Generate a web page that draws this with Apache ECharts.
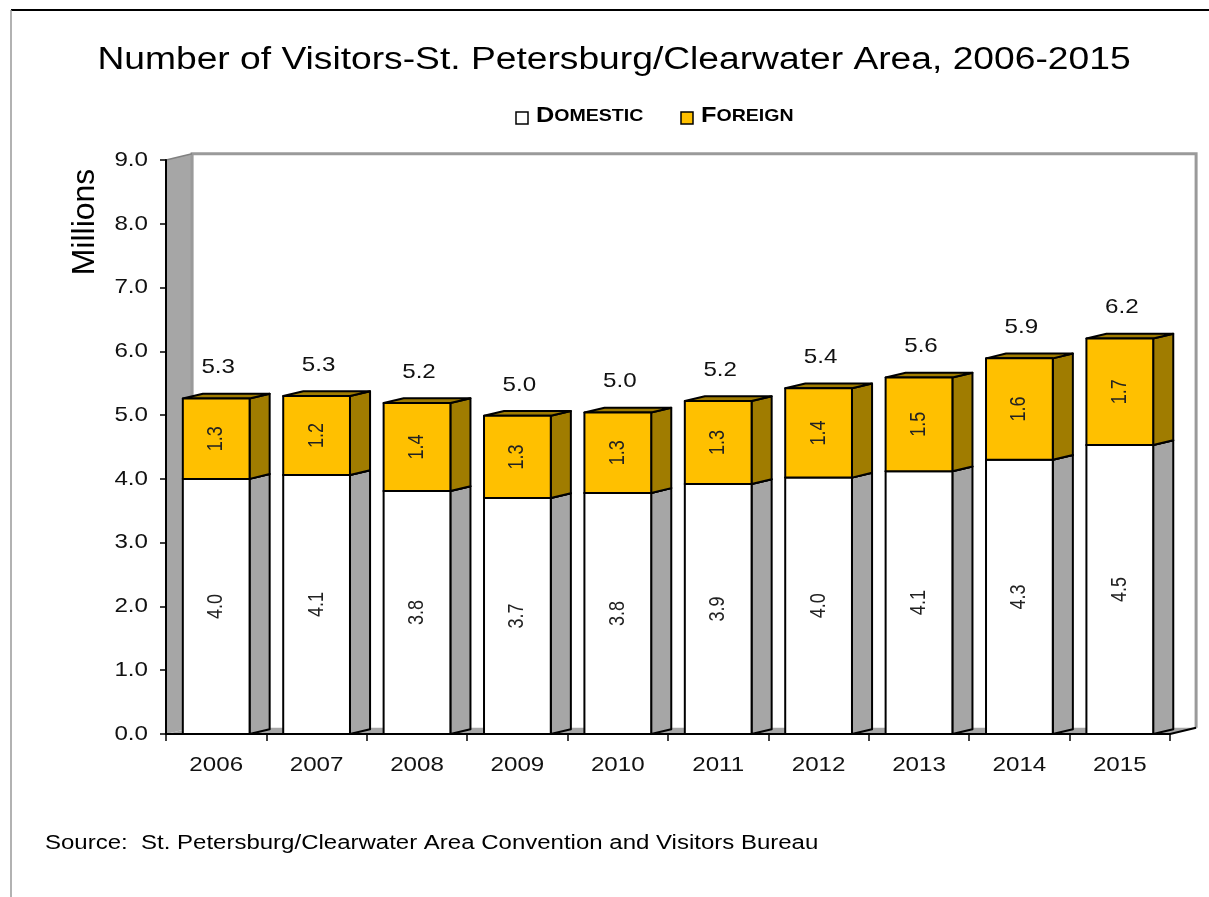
<!DOCTYPE html>
<html><head><meta charset="utf-8">
<script src="https://cdn.jsdelivr.net/npm/echarts@6/dist/echarts.min.js"></script>
<style>html,body{margin:0;padding:0;background:#fff}#c{width:1209px;height:897px}</style>
</head><body><div id="c"></div>
<script>
const years = ['2006','2007','2008','2009','2010','2011','2012','2013','2014','2015'];
const domestic = [4.00, 4.06, 3.81, 3.70, 3.78, 3.92, 4.02, 4.12, 4.30, 4.53];
const foreign  = [1.26, 1.24, 1.38, 1.29, 1.26, 1.30, 1.40, 1.47, 1.59, 1.67];
const yTicks = [0, 1, 2, 3, 4, 5, 6, 7, 8, 9];
const yMin = 0, yMax = 9, yStep = 1;

const FONT = '"Liberation Sans", Arial, sans-serif';
const SX = 1.15; // horizontal stretch of the reference's text
const BAR_W = 0.665, BAR_D = 0.2, WALL_D = 0.26, SLOPE = 0.24;

function barRender(baseArr, face, side, showTotal) {
  return function (params, api) {
    const i = api.value(0), v = api.value(1);
    const base = baseArr ? baseArr[i] : 0;
    const p0 = api.coord([i, base]);
    const p1 = api.coord([i, base + v]);
    const band = api.size([1, 0])[0];
    const w = band * BAR_W;
    const xl = p0[0] - w / 2, xr = p0[0] + w / 2;
    const yb = p0[1], yt = p1[1];
    const dx = band * BAR_D, dy = -dx * SLOPE;
    const st = { stroke: '#000', lineWidth: 2, lineJoin: 'round' };
    const ch = [
      { type: 'polygon', shape: { points: [[xr, yb], [xr + dx, yb + dy], [xr + dx, yt + dy], [xr, yt]] }, style: Object.assign({ fill: side }, st) },
      { type: 'polygon', shape: { points: [[xl, yt], [xr, yt], [xr + dx, yt + dy], [xl + dx, yt + dy]] }, style: Object.assign({ fill: face === '#ffffff' ? '#ffffff' : side }, st) },
      { type: 'rect', shape: { x: xl, y: yt, width: w, height: yb - yt }, style: Object.assign({ fill: face }, st) },
      { type: 'text', x: (xl + xr) / 2, y: (yt + yb) / 2, rotation: Math.PI / 2, scaleY: 1.2,
        style: { text: v.toFixed(1), font: '18px ' + FONT, fill: '#222', align: 'center', verticalAlign: 'middle' } }
    ];
    if (showTotal) {
      ch.push({ type: 'text', x: (xl + xr) / 2 + 2, y: yt - 31, scaleX: SX,
        style: { text: (base + v).toFixed(1), font: '21px ' + FONT, fill: '#111', align: 'center', verticalAlign: 'middle' } });
    }
    return { type: 'group', children: ch };
  };
}

function wallRender(params, api) {
  const cs = params.coordSys;
  const band = api.size([1, 0])[0];
  const D = band * WALL_D, d = D * SLOPE;
  const x0 = cs.x, x1 = cs.x + cs.width, yT = cs.y, yB = cs.y + cs.height;
  return { type: 'group', children: [
    { type: 'polygon', shape: { points: [[x0, yT], [x0 + D, yT - d], [x0 + D, yB - d], [x0, yB]] }, style: { fill: '#a6a6a6', stroke: 'none' } },
    { type: 'polygon', shape: { points: [[x0, yB], [x1, yB], [x1 + D, yB - d], [x0 + D, yB - d]] }, style: { fill: '#a6a6a6', stroke: 'none' } },
    { type: 'polyline', shape: { points: [[x0 + D, yB - d], [x0 + D, yT - d], [x1 + D, yT - d], [x1 + D, yB - d]] }, style: { fill: 'none', stroke: '#9a9a9a', lineWidth: 3 } },
    { type: 'line', shape: { x1: x0, y1: yT, x2: x0 + D, y2: yT - d }, style: { stroke: '#808080', lineWidth: 1.5 } },
    { type: 'line', shape: { x1: x1, y1: yB, x2: x1 + D, y2: yB - d }, style: { stroke: '#000', lineWidth: 2 } }
  ]};
}

function yLabelRender(params, api) {
  const cs = params.coordSys;
  const p = api.coord([0, api.value(1)]);
  return { type: 'text', x: cs.x - 18, y: p[1], scaleX: SX,
    style: { text: api.value(1).toFixed(1), font: '21px ' + FONT, fill: '#111', align: 'right', verticalAlign: 'middle' } };
}
function xLabelRender(params, api) {
  const i = api.value(0);
  const p = api.coord([i, 0]);
  return { type: 'text', x: p[0], y: p[1] + 31, scaleX: SX,
    style: { text: years[i], font: '21px ' + FONT, fill: '#111', align: 'center', verticalAlign: 'middle' } };
}

function legendItem(x, name, fill) {
  return { type: 'group', x: x, y: 118, children: [
    { type: 'rect', shape: { x: 0, y: -6, width: 12, height: 12 }, style: { fill: fill, stroke: '#000', lineWidth: 1.5 } },
    { type: 'text', x: 20, y: 9, scaleX: 1.15, style: {
      text: '{a|' + name[0] + '}{b|' + name.slice(1).toUpperCase() + '}', align: 'left', verticalAlign: 'bottom',
      rich: { a: { font: 'bold 22px ' + FONT, fill: '#000' }, b: { font: 'bold 17px ' + FONT, fill: '#000' } } } }
  ]};
}

const chart = echarts.init(document.getElementById('c'), null, { renderer: 'canvas' });
chart.setOption({
  animation: false,
  backgroundColor: '#fff',
  grid: { left: 166, right: 39, top: 160, bottom: 163 },
  legend: { show: false, data: ['Domestic', 'Foreign'] },
  xAxis: {
    type: 'category', data: years, z: 10,
    axisLine: { lineStyle: { color: '#000', width: 2 } },
    axisTick: { show: true, length: 7, lineStyle: { color: '#000', width: 1.5 } },
    axisLabel: { show: false }
  },
  yAxis: {
    type: 'value', min: yMin, max: yMax, interval: yStep, z: 10,
    splitLine: { show: false },
    axisLine: { show: true, lineStyle: { color: '#000', width: 2 } },
    axisTick: { show: true, length: 6, lineStyle: { color: '#000', width: 1.5 } },
    axisLabel: { show: false }
  },
  graphic: [
    { type: 'line', shape: { x1: 11, y1: 10, x2: 1209, y2: 10 }, style: { stroke: '#000', lineWidth: 2 } },
    { type: 'line', shape: { x1: 11, y1: 10, x2: 11, y2: 897 }, style: { stroke: '#999', lineWidth: 1.5 } },
    { type: 'text', x: 614, y: 60, scaleX: 1.2, style: { text: 'Number of Visitors-St. Petersburg/Clearwater Area, 2006-2015', font: '31px ' + FONT, fill: '#000', align: 'center', verticalAlign: 'middle' } },
    { type: 'text', x: 85, y: 222, rotation: Math.PI / 2, style: { text: 'Millions', font: '32px ' + FONT, fill: '#000', align: 'center', verticalAlign: 'middle' } },
    { type: 'text', x: 45, y: 843, scaleX: 1.2, style: { text: 'Source:  St. Petersburg/Clearwater Area Convention and Visitors Bureau', font: '20px ' + FONT, fill: '#000', align: 'left', verticalAlign: 'middle' } },
    legendItem(516, 'Domestic', '#ffffff'),
    legendItem(681, 'Foreign', '#ffc000')
  ],
  series: [
    { type: 'custom', name: 'walls', silent: true, data: [[0, 0]], renderItem: wallRender, z: 1 },
    { type: 'custom', name: 'Domestic', data: domestic.map((v, i) => [i, v]), itemStyle: { color: '#ffffff', borderColor: '#000' },
      renderItem: barRender(null, '#ffffff', '#a6a6a6', false), z: 2 },
    { type: 'custom', name: 'Foreign', data: foreign.map((v, i) => [i, v]), itemStyle: { color: '#ffc000', borderColor: '#000' },
      renderItem: barRender(domestic, '#ffc000', '#a07c00', true), z: 3 },
    { type: 'custom', name: 'yLabels', silent: true, data: yTicks.map(v => [0, v]), renderItem: yLabelRender, z: 4 },
    { type: 'custom', name: 'xLabels', silent: true, data: years.map((y, i) => [i, 0]), renderItem: xLabelRender, z: 4 }
  ]
});
</script></body></html>
